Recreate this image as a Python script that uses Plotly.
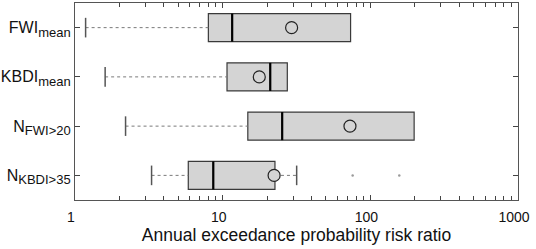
import plotly.graph_objects as go

categories = ["FWI<sub><span style='font-size:13px'>mean</span></sub>",
              "KBDI<sub><span style='font-size:13px'>mean</span></sub>",
              "N<sub><span style='font-size:13px'>FWI>20</span></sub>",
              "N<sub><span style='font-size:13px'>KBDI>35</span></sub>"]
whisker_low = [1.18, 1.6, 2.2, 3.3]
q1 = [8.0, 10.7, 14.8, 5.85]
median = [11.6, 21.0, 25.3, 8.64]
q3 = [73.5, 27.4, 198.0, 22.6]
whisker_high = [73.5, 27.4, 198.0, 31.7]
means = [29.3, 17.7, 72.8, 22.3]
outlier_row = [3, 3]
outlier_vals = [75.9, 157.0]

x_title = "Annual exceedance probability risk ratio"
minor_vals = [m * 10 ** d for d in range(3) for m in range(2, 10)]

BOX_W = 0.57
pos = list(range(len(categories)))

fig = go.Figure()

# whiskers (dotted)
for i in pos:
    fig.add_trace(go.Scatter(x=[whisker_low[i], q1[i]], y=[i, i], mode="lines",
                             line=dict(color="#7a7a7a", width=1, dash="dot"),
                             showlegend=False, hoverinfo="skip"))
    if whisker_high[i] > q3[i]:
        fig.add_trace(go.Scatter(x=[q3[i], whisker_high[i]], y=[i, i], mode="lines",
                                 line=dict(color="#7a7a7a", width=1, dash="dot"),
                                 showlegend=False, hoverinfo="skip"))

# caps
cap_x, cap_y = [], []
for i in pos:
    cap_x.append(whisker_low[i]); cap_y.append(i)
    if whisker_high[i] > q3[i]:
        cap_x.append(whisker_high[i]); cap_y.append(i)
fig.add_trace(go.Scatter(x=cap_x, y=cap_y, mode="markers",
                         marker=dict(symbol="line-ns-open", size=14, color="#555555",
                                     line=dict(color="#555555", width=1.5)),
                         showlegend=False, hoverinfo="skip"))

# boxes
fig.add_trace(go.Box(orientation="h", y=pos, q1=q1, median=median, q3=q3,
                     lowerfence=q1, upperfence=q3, width=BOX_W, whiskerwidth=0,
                     fillcolor="#d4d4d4", line=dict(color="#3a3a3a", width=1.2),
                     showlegend=False, hoverinfo="skip"))

# medians (thicker)
for i in pos:
    fig.add_trace(go.Scatter(x=[median[i], median[i]], y=[i - BOX_W / 2, i + BOX_W / 2],
                             mode="lines", line=dict(color="#000000", width=2.2),
                             showlegend=False, hoverinfo="skip"))

# outliers
fig.add_trace(go.Scatter(x=outlier_vals, y=outlier_row, mode="markers",
                         marker=dict(symbol="circle", size=2.5, color="#9a9a9a"),
                         showlegend=False, hoverinfo="skip"))

# means
fig.add_trace(go.Scatter(x=means, y=pos, mode="markers",
                         marker=dict(symbol="circle", size=12, color="#d4d4d4",
                                     line=dict(color="#222222", width=1.2)),
                         showlegend=False, hoverinfo="skip"))

fig.update_layout(
    width=536, height=249,
    margin=dict(l=75, r=18, t=3, b=49, autoexpand=False),
    paper_bgcolor="white", plot_bgcolor="white",
    font=dict(family="Liberation Sans, Arial, sans-serif", color="#111111"),
    xaxis=dict(type="log", range=[0, 3], dtick=1, tickformat="d", automargin=False,
               ticks="inside", ticklen=5, tickcolor="#444444", tickwidth=1,
               minor=dict(ticks="inside", ticklen=3.5, tickcolor="#444444", tickwidth=1,
                          tickvals=minor_vals, showgrid=False),
               showline=True, linecolor="#555555", linewidth=1.2, mirror="ticks",
               showgrid=False, zeroline=False, ticklabeloverflow="allow",
               ticklabelshift=-4, ticklabelstandoff=4,
               tickfont=dict(size=14),
               title=dict(text=x_title, font=dict(size=17.5), standoff=4)),
    yaxis=dict(range=[3.5, -0.5], tickvals=pos, ticktext=categories, automargin=False,
               ticks="inside", ticklen=5, tickcolor="#444444",
               showline=True, linecolor="#555555", linewidth=1.2, mirror="ticks",
               showgrid=False, zeroline=False, tickfont=dict(size=16),
               ticklabeloverflow="allow"),
)

fig.write_html("out.html", post_script="document.body.style.margin='0';",
               config={"displayModeBar": False})
